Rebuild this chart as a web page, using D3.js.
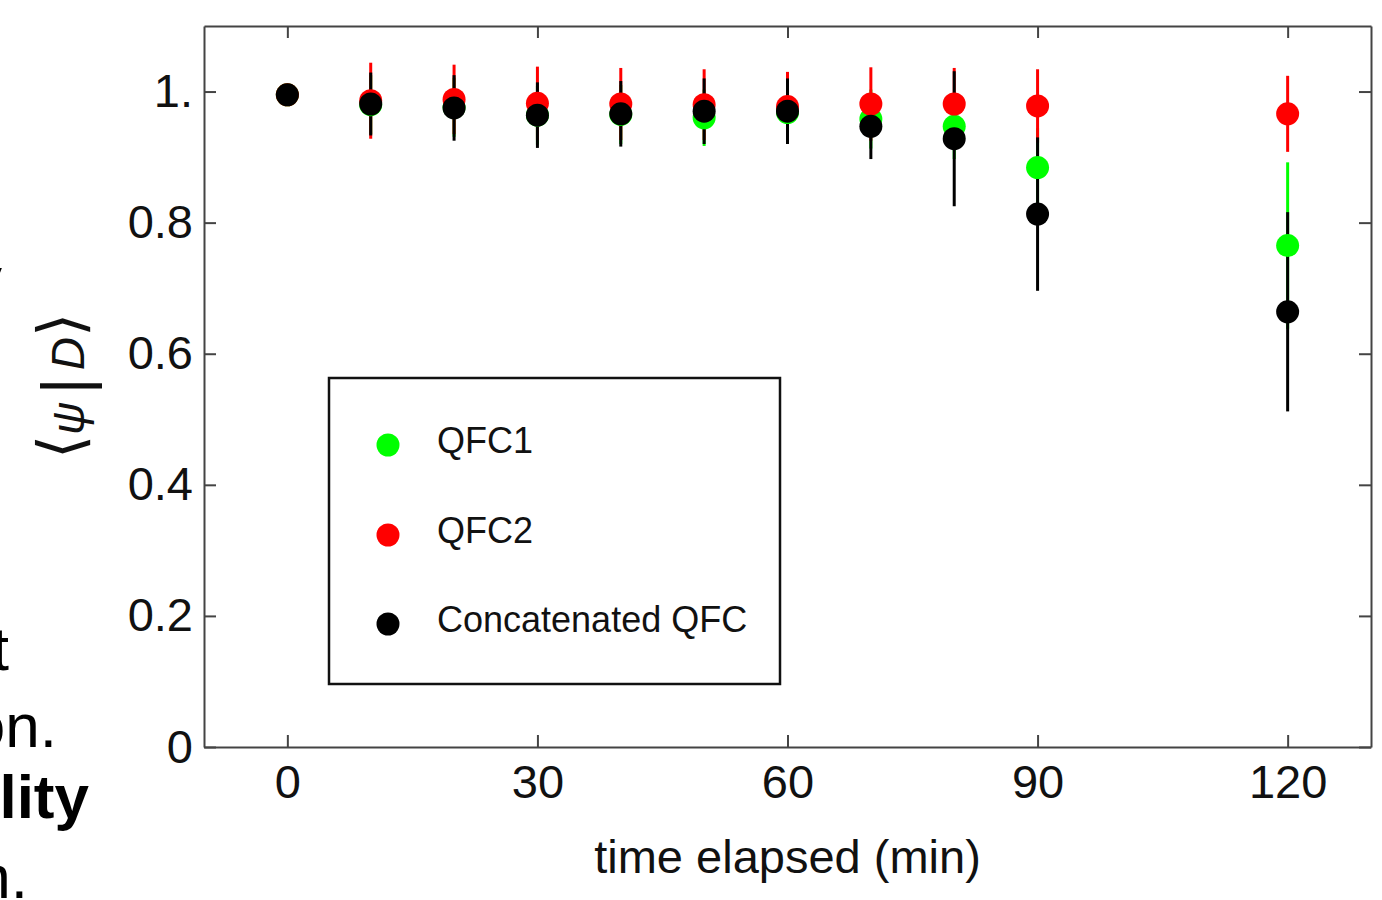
<!DOCTYPE html>
<html>
<head>
<meta charset="utf-8">
<script src="https://cdn.jsdelivr.net/npm/d3@7"></script>
<style>
  html, body { margin: 0; padding: 0; background: #fff; overflow: hidden; }
  svg { display: block; font-family: "Liberation Sans", Arial, sans-serif; }
</style>
</head>
<body>
<div id="chart"></div>
<script>
// time points (min)
const times = [0, 10, 20, 30, 40, 50, 60, 70, 80, 90, 120];

// QFC1 (green)
const qfc1 = [0.995, 0.980, 0.976, 0.964, 0.965, 0.960, 0.968, 0.958, 0.947, 0.884, 0.765];
const qfc1Err = [0, 0.045, 0.045, 0.045, 0.045, 0.043, 0.045, 0.045, 0.05, 0.06, 0.127];

// QFC2 (red)
const qfc2 = [0.995, 0.986, 0.988, 0.982, 0.981, 0.980, 0.977, 0.981, 0.981, 0.978, 0.966];
const qfc2Err = [0, 0.058, 0.053, 0.056, 0.055, 0.054, 0.053, 0.056, 0.055, 0.056, 0.058];

// concatenated QFC (black)
const concat = [0.995, 0.981, 0.975, 0.964, 0.966, 0.970, 0.970, 0.947, 0.928, 0.813, 0.664];
const concatErr = [0, 0.048, 0.05, 0.05, 0.05, 0.05, 0.05, 0.05, 0.103, 0.117, 0.152];

const seriesNames = ["QFC1", "QFC2", "Concatenated QFC"];
const seriesColors = ["#00ff00", "#ff0000", "#000000"];

const xTicks = [0, 30, 60, 90, 120];
const yTicks = [0, 0.2, 0.4, 0.6, 0.8, 1];
const yTickLabels = ["0", "0.2", "0.4", "0.6", "0.8", "1."];

// cropped words from the neighbouring text column
const sideWords = [
  { text: "y", y: 300, end: 2, bold: false },
  { text: "t", y: 670, end: 9, bold: false },
  { text: "on.", y: 747, end: 57, bold: false },
  { text: "lity", y: 818, end: 89, bold: true },
  { text: "n.", y: 898, end: 28, bold: false },
];

// Chart dimensions
const width = 1382;
const height = 900;
const marginLeft = 204;
const marginRight = 1371;
const marginTop = 26;
const marginBottom = 747;

const x = d3.scaleLinear([-10, 130], [marginLeft, marginRight]);
const y = d3.scaleLinear([0, 1.1], [marginBottom, marginTop]);

const svg = d3.create("svg").attr("width", width).attr("height", height);

const series = seriesNames.map((name, i) => ({
  name,
  color: seriesColors[i],
  values: times.map((t, j) => ({
    t,
    v: [qfc1, qfc2, concat][i][j],
    e: [qfc1Err, qfc2Err, concatErr][i][j],
  })),
}));

// side text fragments
svg.append("g")
  .selectAll("text")
  .data(sideWords)
  .join("text")
  .attr("x", (d) => d.end)
  .attr("y", (d) => d.y)
  .attr("text-anchor", "end")
  .attr("font-size", 62)
  .attr("font-weight", (d) => (d.bold ? "bold" : "normal"))
  .attr("fill", "#000")
  .text((d) => d.text);

// Axes: ticks pointing inward on all four sides
const axisColor = "#444";
const styleAxis = (g) => {
  g.select(".domain").attr("stroke", axisColor).attr("stroke-width", 2);
  g.selectAll(".tick line").attr("stroke", axisColor).attr("stroke-width", 2);
  g.selectAll(".tick text").attr("fill", "#111").attr("font-size", 47)
    .attr("font-family", '"Liberation Sans", Arial, sans-serif');
};

svg.append("g")
  .attr("transform", `translate(0,${marginBottom})`)
  .call(d3.axisBottom(x).tickValues(xTicks).tickSizeInner(-12).tickSizeOuter(0).tickPadding(18))
  .call(styleAxis);

svg.append("g")
  .attr("transform", `translate(0,${marginTop})`)
  .call(d3.axisTop(x).tickValues(xTicks).tickSizeInner(-12).tickSizeOuter(0).tickFormat(""))
  .call(styleAxis);

svg.append("g")
  .attr("transform", `translate(${marginLeft},0)`)
  .call(d3.axisLeft(y).tickValues(yTicks).tickSizeInner(-12).tickSizeOuter(0).tickPadding(11)
    .tickFormat((d, i) => yTickLabels[i]))
  .call(styleAxis);

svg.append("g")
  .attr("transform", `translate(${marginRight},0)`)
  .call(d3.axisRight(y).tickValues(yTicks).tickSizeInner(-12).tickSizeOuter(0).tickFormat(""))
  .call(styleAxis);

// Error bars (drawn first, points above)
series.forEach((s) => {
  svg.append("g")
    .selectAll("line")
    .data(s.values.filter((d) => d.e > 0))
    .join("line")
    .attr("x1", (d) => x(d.t))
    .attr("x2", (d) => x(d.t))
    .attr("y1", (d) => y(d.v + d.e))
    .attr("y2", (d) => y(d.v - d.e))
    .attr("stroke", s.color)
    .attr("stroke-width", 3);
});

// Points
series.forEach((s) => {
  svg.append("g")
    .selectAll("circle")
    .data(s.values)
    .join("circle")
    .attr("cx", (d) => x(d.t))
    .attr("cy", (d) => y(d.v))
    .attr("r", 11.5)
    .attr("fill", s.color);
});

// Axis titles
svg.append("text")
  .attr("x", (marginLeft + marginRight) / 2)
  .attr("y", 873)
  .attr("text-anchor", "middle")
  .attr("font-size", 47)
  .attr("fill", "#111")
  .text("time elapsed (min)");

const yLabel = svg.append("text")
  .attr("transform", "translate(84,386) rotate(-90)")
  .attr("text-anchor", "middle")
  .attr("font-size", 46)
  .attr("fill", "#111");
yLabel.append("tspan").attr("font-size", 62).attr("font-weight", "200").attr("dy", -2).text("\u27E8");
yLabel.append("tspan").attr("font-style", "italic").attr("dy", 2).text("\u03C8");
yLabel.append("tspan").attr("font-size", 66).attr("dx", 7).attr("dy", 4).text("|");
yLabel.append("tspan").attr("font-style", "italic").attr("dx", 7).attr("dy", -4).text("D");
yLabel.append("tspan").attr("font-size", 62).attr("font-weight", "200").attr("dy", -2).text("\u27E9");

// Legend
const legend = svg.append("g");
legend.append("rect")
  .attr("x", 329)
  .attr("y", 378)
  .attr("width", 451)
  .attr("height", 306)
  .attr("fill", "#fff")
  .attr("stroke", "#111")
  .attr("stroke-width", 2.5);

const legendRows = [445, 535, 624];
const items = legend.selectAll("g.item")
  .data(series)
  .join("g")
  .attr("class", "item")
  .attr("transform", (d, i) => `translate(0,${legendRows[i]})`);
items.append("circle").attr("cx", 388).attr("cy", 0).attr("r", 11.5).attr("fill", (d) => d.color);
items.append("text")
  .attr("x", 437)
  .attr("y", 8)
  .attr("font-size", 36)
  .attr("fill", "#111")
  .text((d) => d.name);

d3.select("#chart").node().appendChild(svg.node());
</script>
</body>
</html>
